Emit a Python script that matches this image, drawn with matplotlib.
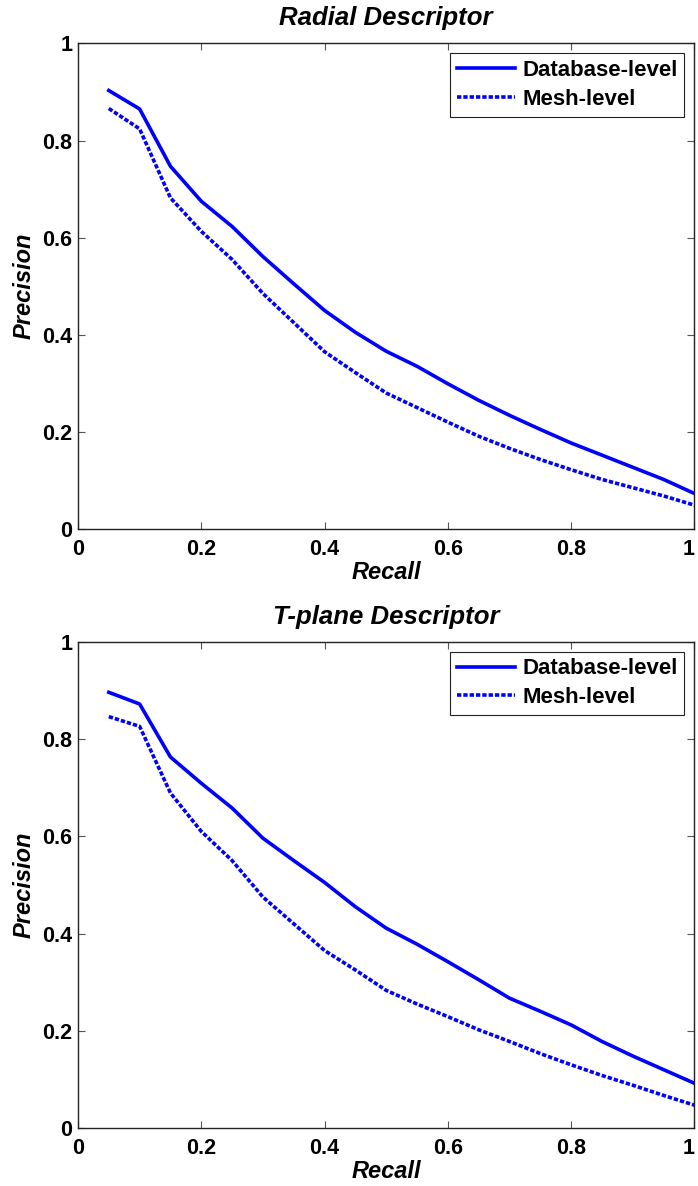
import matplotlib
matplotlib.use('Agg')
import matplotlib.pyplot as plt
import numpy as np

recall = [0.05, 0.10, 0.15, 0.20, 0.25, 0.30, 0.35, 0.40, 0.45, 0.50,
          0.55, 0.60, 0.65, 0.70, 0.75, 0.80, 0.85, 0.90, 0.95, 1.00]

# Radial descriptor
radial_db = [0.903, 0.865, 0.747, 0.675, 0.623, 0.561, 0.505, 0.450, 0.405, 0.366,
             0.335, 0.299, 0.265, 0.234, 0.205, 0.177, 0.152, 0.127, 0.102, 0.073]
radial_mesh = [0.866, 0.824, 0.682, 0.613, 0.555, 0.485, 0.425, 0.365, 0.322, 0.280,
               0.250, 0.220, 0.191, 0.166, 0.143, 0.122, 0.102, 0.085, 0.068, 0.049]

# T-plane descriptor
tplane_db = [0.896, 0.872, 0.763, 0.709, 0.658, 0.596, 0.550, 0.505, 0.455, 0.411,
             0.378, 0.342, 0.305, 0.267, 0.240, 0.212, 0.178, 0.148, 0.120, 0.092]
tplane_mesh = [0.846, 0.826, 0.689, 0.610, 0.550, 0.475, 0.420, 0.365, 0.325, 0.283,
               0.255, 0.229, 0.202, 0.178, 0.153, 0.130, 0.108, 0.088, 0.067, 0.047]

titles = ['Radial Descriptor', 'T-plane Descriptor']
series = [(radial_db, radial_mesh), (tplane_db, tplane_mesh)]
labels = ['Database-level', 'Mesh-level']
ticklabels = ['0', '0.2', '0.4', '0.6', '0.8', '1']

plt.rcParams['font.family'] = ['Liberation Sans', 'DejaVu Sans']
plt.rcParams['font.weight'] = 'bold'

fig = plt.figure(figsize=(6.98, 11.86), dpi=100)
rects = [[0.1117, 0.5540, 0.8832, 0.4094], [0.1117, 0.0489, 0.8832, 0.4100]]

for rect, title, (db, mesh) in zip(rects, titles, series):
    ax = fig.add_axes(rect)
    ax.plot(recall, db, color='#0000ff', lw=2.6, label=labels[0])
    ax.plot(recall, mesh, color='#0000ff', lw=2.6, dashes=(1.2, 0.55), label=labels[1])
    ax.set_xlim(0, 1)
    ax.set_ylim(0, 1)
    ax.set_xticks(np.arange(0, 1.01, 0.2))
    ax.set_yticks(np.arange(0, 1.01, 0.2))
    ax.set_xticklabels(ticklabels)
    ax.set_yticklabels(ticklabels)
    ax.tick_params(direction='in', top=True, right=True, length=5, width=0.8,
                   color='#555555', labelsize=15.5)
    ax.tick_params(axis='x', pad=7)
    ax.tick_params(axis='y', pad=4)
    for lab in ax.get_xticklabels() + ax.get_yticklabels():
        lab.set_fontweight('bold')
    # keep the last x label inside the figure edge
    ax.get_xticklabels()[-1].set_horizontalalignment('right')
    for sp in ax.spines.values():
        sp.set_color('#222222')
        sp.set_linewidth(1.0)
    ax.set_title(title, fontsize=18.5, fontweight='bold', style='italic', pad=13)
    ax.set_xlabel('Recall', fontsize=17, fontweight='bold', style='italic', labelpad=1)
    ax.set_ylabel('Precision', fontsize=17, fontweight='bold', style='italic', labelpad=5)
    leg = ax.legend(loc='upper right', fontsize=16, fancybox=False, framealpha=1,
                    edgecolor='#222222', handlelength=2.6, borderpad=0.3,
                    labelspacing=0.35, handletextpad=0.35, borderaxespad=0.45)
    leg.get_frame().set_linewidth(0.8)
    for t in leg.get_texts():
        t.set_fontweight('bold')

plt.savefig('out.png', dpi=100)
